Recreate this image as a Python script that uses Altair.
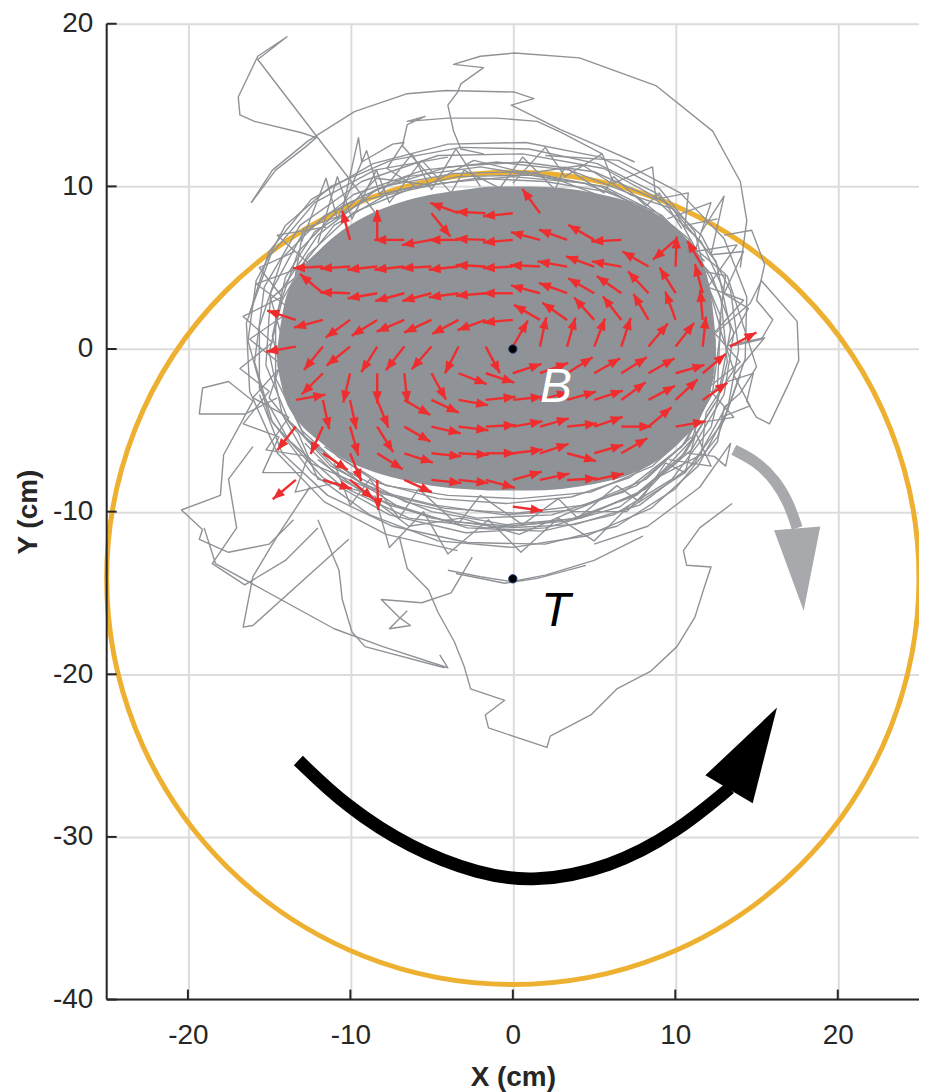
import math
import altair as alt
import pandas as pd

# ---------------- axes ----------------
X_TICKS = [-20, -10, 0, 10, 20]
Y_TICKS = [-40, -30, -20, -10, 0, 10, 20]

# ---------------- annotation geometry (cm) ----------------
CIRCLE_CENTER = [0.0, -14.1]
CIRCLE_RADIUS = 25.0
DOT_X = [0.0, 0.0]
DOT_Y = [0.0, -14.13]
LABEL_TEXT = ["B", "T"]
LABEL_X = [2.65, 2.65]
LABEL_Y = [-2.4, -16.2]

BLACK_ARROW_X = [-13.2, -10.3, -6.3, -2.1, 1.3, 6.0, 10.1, 13.35]
BLACK_ARROW_Y = [-25.3, -28.1, -30.7, -32.3, -32.8, -31.9, -29.7, -27.0]
BLACK_ARROW_TIP = [16.26, -22.05]

GRAY_ARROW_X = [13.6, 15.0, 16.2, 17.0, 17.5]
GRAY_ARROW_Y = [-6.2, -6.9, -8.1, -9.5, -11.0]
GRAY_ARROW_TIP = [17.9, -16.1]

# ---------------- dense trajectory core (cm) ----------------
CORE_X = [-14.5, -14.1, -13.3, -12.0, -10.5, -9.0, -7.0, -5.0, -3.0, -1.0, 1.0, 3.0, 5.0, 7.0, 9.0, 10.5, 11.6,
          12.2, 12.5]
CORE_TOP = [0.0, 2.6, 4.5, 6.0, 7.3, 8.2, 9.0, 9.5, 9.8, 10.0, 10.0, 9.9, 9.6, 9.1, 8.2, 7.0, 5.4, 3.3, 0.5]
CORE_BOT = [-1.0, -2.8, -4.3, -5.6, -6.7, -7.4, -8.0, -8.4, -8.6, -8.7, -8.7, -8.6, -8.3, -7.8, -6.8, -5.5, -4.1,
            -2.4, -0.6]

# ---------------- trajectory fringe & excursions (x, y in cm) ----------------
LOOP_1 = [(-16.3, 0.5), (-15.8, 4.2), (-14.0, 7.6), (-11.2, 10.0), (-7.5, 11.6), (-3.2, 12.4), (1.0, 12.3),
          (5.2, 11.4), (8.8, 9.6), (11.6, 7.0), (13.4, 3.6), (13.9, 0.0), (13.2, -3.8), (11.4, -7.2),
          (8.5, -9.8), (4.5, -11.5), (0.0, -12.2), (-4.6, -11.8), (-8.8, -10.2), (-12.4, -7.6),
          (-15.0, -4.2), (-16.3, 0.5)]
LOOP_2 = [(-15.2, -1.0), (-14.9, 3.5), (-13.0, 7.0), (-9.8, 9.5), (-5.5, 11.0), (-1.0, 11.5), (3.5, 11.0),
          (7.6, 9.4), (10.8, 6.8), (12.8, 3.2), (13.2, -0.8), (12.2, -4.8), (9.8, -8.0), (6.2, -10.2),
          (1.8, -11.2), (-2.8, -11.0), (-7.2, -9.6), (-11.0, -7.2), (-13.8, -4.4), (-15.2, -1.0)]
LOOP_3 = [(-14.6, 2.0), (-13.2, 6.0), (-10.5, 8.8), (-6.5, 10.6), (-2.0, 11.2), (2.8, 10.4), (7.0, 8.8),
          (10.2, 6.0), (12.0, 2.4), (12.4, -1.6), (11.0, -5.6), (8.2, -8.6), (4.2, -10.4), (-0.4, -10.8),
          (-5.0, -10.0), (-9.4, -8.2), (-12.8, -5.4), (-14.6, -1.8), (-14.6, 2.0)]
LOOP_4 = [(-15.6, 1.4), (-14.2, 5.6), (-11.6, 8.2), (-8.0, 10.0), (-3.6, 10.8), (0.8, 10.9), (5.4, 10.0),
          (9.4, 7.8), (12.2, 4.6), (13.6, 1.0), (13.0, -2.8), (11.0, -6.2), (7.6, -9.0), (3.2, -10.6),
          (-1.6, -11.0), (-6.4, -10.4), (-10.6, -8.4), (-13.8, -5.6), (-15.6, -2.4), (-15.6, 1.4)]
LOOP_5 = [(-13.9, -2.8), (-14.8, 0.8), (-14.0, 4.4), (-12.2, 7.2), (-9.0, 9.2), (-4.4, 10.2), (0.0, 10.6),
          (4.4, 10.2), (8.4, 8.6), (11.2, 5.8), (12.8, 2.0), (12.6, -2.2), (10.4, -6.0), (6.8, -8.8),
          (2.4, -10.2), (-2.2, -10.4), (-6.6, -9.4), (-10.4, -7.4), (-13.0, -5.0), (-13.9, -2.8)]
LOOP_7 = [(-14.8, -4.5), (-15.9, -0.8), (-15.3, 3.8), (-13.1, 7.6), (-9.3, 10.3), (-4.6, 11.9), (0.6, 12.0),
          (5.6, 11.1), (9.6, 8.9), (12.5, 5.4), (13.4, 1.2), (12.6, -3.1), (10.2, -6.9), (6.6, -9.7),
          (2.0, -11.0), (-2.9, -11.3), (-7.6, -10.2), (-11.7, -7.9), (-14.8, -4.5)]
LOOP_9 = [(-14.0, 0.0), (-14.9, 3.1), (-13.4, 4.4), (-12.9, 7.4), (-10.6, 8.2), (-8.4, 10.5), (-5.2, 10.1),
          (-2.4, 11.6), (0.9, 10.8), (4.3, 11.3), (7.2, 9.5), (9.9, 8.6), (11.3, 6.1), (13.1, 4.6), (12.7, 1.4),
          (13.6, -1.3), (11.9, -3.9), (11.6, -6.5), (9.1, -7.8), (7.0, -10.0), (3.6, -10.0), (0.4, -11.4),
          (-3.2, -10.4), (-6.4, -10.9), (-9.2, -8.8), (-12.0, -8.0), (-13.2, -5.2), (-15.0, -3.0), (-14.0, 0.0)]
LOOP_10 = [(-12.5, -7.0), (-14.2, -4.0), (-15.0, -0.2), (-14.2, 3.0), (-12.6, 5.8), (-9.8, 8.4), (-6.2, 9.9),
           (-2.2, 10.5), (2.0, 10.3), (6.2, 9.6), (9.6, 7.6), (11.8, 4.7), (12.8, 1.2), (12.3, -2.6),
           (10.6, -5.8), (7.6, -8.4), (3.8, -9.9), (-0.5, -10.2), (-4.8, -9.6), (-8.8, -8.6), (-12.5, -7.0)]
LOOP_11 = [(-16.2, 2.2), (-15.0, 6.0), (-12.4, 9.2), (-8.6, 11.4), (-4.0, 12.6), (0.8, 12.7), (5.4, 11.8),
           (9.0, 9.9), (11.2, 7.2), (12.0, 4.0), (11.4, 0.6)]
LOOP_12 = [(-15.6, -2.8), (-14.2, -6.4), (-11.4, -9.0), (-7.4, -10.9), (-2.8, -11.9), (2.0, -12.0), (6.4, -10.9),
           (10.0, -8.6), (12.6, -5.4), (14.0, -1.6)]
LOOP_13 = [(2.0, 11.9), (6.5, 11.6), (10.3, 9.6), (13.0, 6.8), (14.4, 3.2), (14.3, -0.6), (13.0, -4.4),
           (10.6, -7.6), (7.0, -9.9)]
LOOP_14 = [(-4.0, 11.8), (-8.5, 11.0), (-12.2, 9.0), (-14.9, 5.8), (-16.4, 1.6), (-16.2, -2.6), (-14.5, -6.4),
           (-11.6, -9.4), (-7.8, -11.4), (-3.4, -12.4)]
ARC_B1 = [(-12.8, -5.8), (-10.6, -8.0), (-7.6, -9.6), (-4.0, -10.6), (0.0, -10.9), (4.0, -10.4), (7.6, -8.9),
          (10.6, -6.4), (12.4, -3.4)]
ARC_B2 = [(-13.6, -4.6), (-11.2, -7.2), (-8.0, -8.9), (-4.2, -9.8), (0.2, -10.1), (4.4, -9.6), (8.2, -8.0),
          (11.0, -5.4)]
ARC_B3 = [(-12.0, -6.8), (-9.0, -9.0), (-5.0, -10.4), (-0.6, -11.0), (3.8, -10.8), (7.8, -9.6), (11.2, -7.0),
          (13.2, -3.4)]
ARC_B4 = [(-11.6, -6.0), (-8.4, -8.2), (-4.6, -9.2), (-0.4, -9.5), (3.6, -9.1), (7.2, -7.9), (10.2, -5.6)]
ARC_B5 = [(-13.0, -4.0), (-10.8, -6.6), (-7.8, -8.4), (-4.0, -9.0), (0.4, -9.2), (4.8, -8.8), (8.6, -7.2),
          (11.4, -4.6)]
ARC_T1 = [(-13.4, 4.6), (-11.0, 7.6), (-7.6, 9.6), (-3.4, 10.6), (1.2, 10.7), (5.6, 10.0), (9.2, 8.2), (11.8, 5.4)]
ARC_T2 = [(-14.4, 3.4), (-12.0, 7.0), (-8.4, 9.8), (-4.0, 11.2), (0.6, 11.5), (5.0, 10.9), (8.8, 9.2), (11.6, 6.6),
          (13.0, 3.6)]
ZIG_TOP = [(-12.0, 6.5), (-10.8, 10.6), (-9.9, 8.0), (-8.4, 11.0), (-7.6, 9.0), (-5.6, 11.6), (-3.8, 9.6),
           (-3.0, 11.0), (-0.8, 9.9), (0.6, 11.8), (2.6, 9.8), (3.2, 11.2), (5.6, 9.6), (6.2, 10.6), (8.2, 8.8),
           (9.0, 9.6), (10.4, 7.4)]
ZIG_LEFT = [(-11.5, 7.5), (-14.5, 7.0), (-12.5, 5.2), (-15.8, 4.0), (-13.6, 2.4), (-16.2, 0.6), (-14.2, -1.0),
            (-16.0, -3.0), (-13.8, -4.2), (-15.2, -6.2), (-12.6, -6.6), (-13.4, -8.8), (-10.8, -8.2)]
ZIG_BOTTOM = [(-11.0, -7.0), (-10.0, -9.6), (-8.8, -8.0), (-7.0, -10.4), (-5.8, -8.6), (-3.4, -10.8),
              (-2.0, -9.0), (0.6, -10.8), (2.8, -9.2), (4.0, -10.4), (6.4, -8.4), (7.8, -9.4), (9.4, -7.0),
              (10.6, -7.6), (11.2, -5.4)]
ZIG_RIGHT = [(9.5, 8.0), (12.2, 9.0), (11.2, 6.0), (13.8, 6.4), (12.0, 3.8), (14.2, 3.0), (12.4, 1.0),
             (14.0, -0.8), (12.0, -2.4), (13.6, -4.2), (11.0, -4.6), (12.2, -7.2), (9.6, -6.8)]
SPIKES_TOP_LEFT = [(-10.5, 8.5), (-9.5, 13.0), (-9.3, 11.5), (-7.4, 12.6), (-6.7, 12.7), (-7.75, 11.1),
                   (-6.0, 10.0), (-8.2, 9.5)]
SPIKES_TOP = [(-13.0, 6.6), (-11.5, 10.5), (-10.8, 8.0), (-9.0, 12.2), (-8.2, 9.5), (-6.2, 12.0),
              (-5.0, 9.8), (-3.5, 12.3), (-2.0, 10.0)]
SPIKES_TOP_RIGHT = [(0.0, 10.2), (2.0, 12.4), (3.2, 10.6), (5.5, 12.0), (6.2, 10.2), (8.6, 11.2), (8.8, 9.2),
                    (10.8, 9.6), (10.6, 7.6), (12.6, 8.0)]
SPIKES_RIGHT = [(11.6, 7.2), (13.0, 9.4), (12.2, 5.8), (14.2, 6.0), (13.0, 3.4), (14.5, 2.5), (13.2, 0.2),
                (15.5, 0.7), (13.6, -1.6), (14.6, -3.5), (12.8, -4.2)]
SPIKES_LEFT = [(-13.4, 6.0), (-15.6, 5.0), (-14.2, 3.2), (-16.6, 2.0), (-14.8, 0.4), (-16.8, -1.2),
               (-15.0, -2.6), (-16.6, -4.6), (-14.4, -5.4), (-15.4, -7.6), (-13.0, -7.6)]
SPIKES_BOTTOM = [(-8.5, -9.0), (-7.6, -12.2), (-5.5, -10.0), (-4.0, -12.6), (-1.5, -10.5), (0.5, -12.5),
                 (2.8, -10.4), (5.0, -11.8), (7.2, -9.6)]
EXCURSION_TOP_1 = [(-16.1, 9.0), (-14.6, 11.0), (-12.8, 12.4), (-12.1, 13.0), (-13.0, 13.3), (-15.9, 14.0),
                   (-16.8, 14.4), (-16.9, 15.5), (-15.7, 18.0), (-13.9, 19.2), (-15.7, 17.8), (-8.1, 7.9)]
EXCURSION_TOP_2 = [(-1.8, 12.0), (-3.2, 12.3), (-3.65, 13.4), (-4.0, 15.0), (-3.4, 15.8), (-3.2, 16.3),
                   (-1.8, 17.3), (-3.65, 17.5), (-2.0, 18.0), (0.1, 18.2), (4.1, 17.9), (8.8, 16.2),
                   (12.3, 13.4), (14.0, 10.3), (14.4, 7.9), (14.0, 5.0)]
EXCURSION_TOP_3 = [(-16.1, 9.0), (-14.8, 11.0), (-12.6, 12.8), (-9.75, 14.6), (-6.5, 15.7), (-4.1, 15.9),
                   (0.1, 15.8), (1.3, 15.4), (-0.1, 15.0), (2.9, 13.5), (5.0, 12.6), (7.5, 11.5)]
EXCURSION_TOP_4 = [(-5.0, 10.5), (-6.8, 12.5), (-6.5, 13.8), (-5.4, 14.3), (-6.5, 14.0), (-4.0, 14.2),
                   (-1.0, 14.2), (1.5, 14.0), (3.0, 13.3), (5.5, 12.0)]
EXCURSION_LEFT_1 = [(-14.5, -3.0), (-16.5, -4.0), (-19.3, -4.0), (-19.1, -2.4), (-17.5, -2.0), (-16.0, -3.2),
                    (-17.8, -6.5), (-18.0, -9.0), (-20.4, -9.9), (-19.1, -11.1), (-19.3, -11.7),
                    (-17.5, -12.5), (-15.0, -12.0), (-13.5, -10.5)]
EXCURSION_LEFT_2 = [(-12.5, -8.5), (-14.5, -11.5), (-16.0, -14.0), (-16.6, -17.1), (-16.0, -17.0), (-10.1, -11.7)]
EXCURSION_LEFT_3 = [(-16.0, -6.0), (-17.5, -8.0), (-17.0, -11.0), (-18.5, -13.2), (-16.5, -14.5),
                    (-14.0, -13.0), (-12.0, -11.0)]
EXCURSION_LEFT_4 = [(-19.0, -11.0), (-18.3, -13.2), (-11.0, -17.2), (-8.0, -18.3), (-4.0, -19.6), (-4.5, -18.8)]
EXCURSION_BOTTOM_1 = [(-7.0, -11.5), (-6.5, -13.5), (-5.2, -14.8), (-4.6, -16.2), (-3.6, -18.0), (-3.0, -19.5),
                      (-2.6, -20.9), (-0.5, -21.6), (-1.7, -22.5), (-1.5, -23.3), (2.1, -24.5), (2.3, -23.8),
                      (4.8, -22.5), (6.4, -20.9), (8.5, -19.8), (10.1, -18.3), (11.2, -16.5), (11.8, -14.6),
                      (12.2, -13.4), (10.7, -13.3), (10.5, -12.4), (11.5, -11.0), (13.5, -9.5)]
EXCURSION_BOTTOM_2 = [(-4.0, -13.6), (-2.0, -14.0), (-0.1, -14.3), (2.0, -13.9), (5.0, -13.0), (8.0, -11.5)]
EXCURSION_BOTTOM_3 = [(-3.5, -13.8), (-0.5, -14.4), (1.5, -14.1), (4.5, -13.3)]
EXCURSION_BOTTOM_4 = [(-12.0, -10.5), (-10.7, -13.6), (-10.5, -15.4), (-9.9, -17.4), (-9.1, -18.3), (-4.2, -19.6)]
EXCURSION_BOTTOM_5 = [(-2.5, -12.8), (-3.8, -15.0), (-5.6, -15.6), (-8.1, -15.4), (-7.0, -16.5), (-6.3, -17.0),
                      (-7.6, -17.2), (-6.5, -16.1)]
EXCURSION_RIGHT_1 = [(12.5, 1.0), (14.6, 2.8), (15.3, 4.2), (17.5, 1.7), (17.6, -0.7), (16.9, -2.3), (15.8, -4.6),
                     (15.0, -4.2), (14.4, -3.2), (14.8, -1.5), (13.2, -2.0)]
EXCURSION_RIGHT_2 = [(10.5, 5.0), (13.2, 4.5), (15.0, -1.1), (14.0, -2.7), (13.0, -3.6), (12.6, -5.7), (12.0, -6.5)]
EXCURSION_RIGHT_3 = [(10.7, -6.4), (12.4, -6.6), (13.1, -7.2), (13.4, -5.8), (11.5, -8.5), (8.3, -10.9), (5.0, -12.0)]
EXCURSION_RIGHT_4 = [(13.0, 7.0), (14.7, 7.3), (15.5, 5.2), (15.0, 3.0), (16.0, 1.8), (15.3, 0.6), (13.6, 0.2)]

TRACES = [LOOP_1, LOOP_2, LOOP_3, LOOP_4, LOOP_5, LOOP_7, LOOP_9, LOOP_10, LOOP_11, LOOP_12,
          LOOP_13, LOOP_14, ARC_B1, ARC_B2, ARC_B3, ARC_B4, ARC_B5, ARC_T1, ARC_T2,
          ZIG_TOP, ZIG_LEFT, ZIG_BOTTOM, ZIG_RIGHT,
          SPIKES_TOP_LEFT, SPIKES_TOP, SPIKES_TOP_RIGHT, SPIKES_RIGHT, SPIKES_LEFT, SPIKES_BOTTOM,
          EXCURSION_TOP_1, EXCURSION_TOP_2, EXCURSION_TOP_3, EXCURSION_TOP_4,
          EXCURSION_LEFT_1, EXCURSION_LEFT_2, EXCURSION_LEFT_3, EXCURSION_LEFT_4,
          EXCURSION_BOTTOM_1, EXCURSION_BOTTOM_2, EXCURSION_BOTTOM_3, EXCURSION_BOTTOM_4,
          EXCURSION_BOTTOM_5, EXCURSION_RIGHT_1, EXCURSION_RIGHT_2, EXCURSION_RIGHT_3, EXCURSION_RIGHT_4]

# ---------------- red velocity field: arrow direction (deg) on a grid ----------------
# columns j = -10 .. 8  (x = j * 1.67 cm); rows from y = 8.35 cm downwards in 1.64 cm steps
N = None
FIELD_COL_FIRST = -10
FIELD_DX = 1.67
FIELD_Y_TOP = 8.35
FIELD_DY = 1.64
ARROW_LEN = 1.85
ROW_00 = [N, N, N, N, N, N, N, 309, 160, 177, 186, 126, N, N, N, N, N, N, N]
ROW_01 = [N, N, N, N, 105, 90, 180, 190, 180, 178, 185, 165, 160, 150, 183, N, 221, N, N]
ROW_02 = [N, N, N, 183, 184, 186, 186, 183, 186, 177, 183, 177, 170, 160, 170, 150, 88, 121, N]
ROW_03 = [N, N, N, 140, 178, 190, 195, 195, 188, 185, 180, 165, 160, 150, 145, 133, 122, 105, N]
ROW_04 = [N, N, 162, 195, 216, 212, 203, 205, 208, 200, 185, 150, 145, 132, 128, 120, 110, 95, N]
ROW_05 = [N, N, 190, 231, 219, 238, 232, 229, 243, 298, 60, 78, 74, 69, 72, 50, 52, 84, 28]
ROW_06 = [N, N, N, 225, 257, 270, 276, 299, 339, 342, 18, 20, 32, 30, 32, 30, 16, 40, N]
ROW_07 = [N, N, 10, 282, 282, 292, 330, 335, 350, 6, 6, 15, 16, 18, 36, 28, 43, 35, N]
ROW_08 = [N, N, 232, 246, 286, 302, 330, 347, 353, 3, 10, 16, 6, 19, 0, 40, 10, N, N]
ROW_09 = [N, N, N, 326, 292, 328, 342, 354, 357, 0, 7, 18, 345, 16, 30, N, N, N, N]
ROW_10 = [N, N, 220, 343, 321, 272, 336, 354, 354, 345, 16, 12, 3, 12, N, N, N, N, N]
ROW_11 = [N, N, N, N, N, N, N, N, N, N, 352, N, N, N, N, N, N, N, N]
FIELD_ROWS = [ROW_00, ROW_01, ROW_02, ROW_03, ROW_04, ROW_05, ROW_06, ROW_07, ROW_08, ROW_09, ROW_10, ROW_11]

# ---------------- styles ----------------
W, H = 815, 979
FONT = "Liberation Sans"
AXIS_COLOR = "#262626"
GRID_COLOR = "#DCDCDC"
TRACE_COLOR = "#8F9297"
RED = "#EE2E2E"
ORANGE = "#EDB030"
ARROW_GRAY = "#A7A9AC"
PX_PER_CM = W / 50.0


def head_angle(tip, base):
    th = math.degrees(math.atan2(tip[1] - base[1], tip[0] - base[0]))
    return (90.0 - th) % 360.0


xs = alt.Scale(domain=[-25, 25], nice=False, zero=False)
ys = alt.Scale(domain=[-40, 20], nice=False, zero=False)

x_axis = alt.Axis(values=X_TICKS, title="X (cm)", domain=False, ticks=False, grid=True,
                  gridColor=GRID_COLOR, gridWidth=2, labelFontSize=28, labelColor=AXIS_COLOR,
                  labelFont=FONT, labelPadding=22, labelFlush=False, labelOverlap=False,
                  labelExpr="'' + datum.value",
                  titleFont=FONT, titleFontSize=28, titleFontWeight="bold", titleColor=AXIS_COLOR,
                  titlePadding=14)
y_axis = alt.Axis(values=Y_TICKS, title="Y (cm)", domain=False, ticks=False, grid=True,
                  gridColor=GRID_COLOR, gridWidth=2, labelFontSize=28, labelColor=AXIS_COLOR,
                  labelFont=FONT, labelPadding=14, labelFlush=False, labelOverlap=False,
                  labelExpr="'' + datum.value",
                  titleFont=FONT, titleFontSize=28, titleFontWeight="bold", titleColor=AXIS_COLOR,
                  titlePadding=10)


def X(field="x"):
    return alt.X(f"{field}:Q", scale=xs, axis=x_axis, title="X (cm)")


def Y(field="y"):
    return alt.Y(f"{field}:Q", scale=ys, axis=y_axis, title="Y (cm)")


# circle
circle_df = pd.DataFrame({"x": [CIRCLE_CENTER[0]], "y": [CIRCLE_CENTER[1]]})
circle = alt.Chart(circle_df).mark_point(
    shape="circle", filled=False, stroke=ORANGE, strokeWidth=5, opacity=1,
    size=(2 * CIRCLE_RADIUS * PX_PER_CM) ** 2,
).encode(x=X("x"), y=Y("y"))

# dense core
core_df = pd.DataFrame({"x": CORE_X, "top": CORE_TOP, "bot": CORE_BOT})
core = alt.Chart(core_df).mark_area(color=TRACE_COLOR, opacity=1, interpolate="monotone").encode(
    x=X("x"), y=Y("top"), y2="bot:Q")

# trajectory lines
rows = []
for pid, tr in enumerate(TRACES):
    for o, (px, py) in enumerate(tr):
        rows.append({"x": px, "y": py, "path": pid, "o": o})
traj_df = pd.DataFrame(rows)
traj = alt.Chart(traj_df).mark_line(color=TRACE_COLOR, strokeWidth=1.4, strokeJoin="round").encode(
    x=X("x"), y=Y("y"), detail="path:N", order="o:Q")

# red arrows
arr = []
for k, row in enumerate(FIELD_ROWS):
    for i, a in enumerate(row):
        if a is None:
            continue
        x0 = (FIELD_COL_FIRST + i) * FIELD_DX
        y0 = FIELD_Y_TOP - k * FIELD_DY
        t = math.radians(a)
        x1 = x0 + ARROW_LEN * math.cos(t)
        y1 = y0 + ARROW_LEN * math.sin(t)
        arr.append({"x": x0, "y": y0, "x2": x1, "y2": y1, "rot": (90 - a) % 360})
arr_df = pd.DataFrame(arr)
shafts = alt.Chart(arr_df).mark_rule(color=RED, strokeWidth=2.4).encode(
    x=X("x"), y=Y("y"), x2="x2:Q", y2="y2:Q")
heads = alt.Chart(arr_df).mark_point(
    shape="M0,0 L0.4,1 L-0.4,1 Z", filled=True, color=RED, opacity=1, strokeWidth=0, size=576
).encode(x=X("x2"), y=Y("y2"), angle=alt.Angle("rot:Q", scale=None))

# B / T dots and labels
dots_df = pd.DataFrame({"x": DOT_X, "y": DOT_Y})
dots = alt.Chart(dots_df).mark_point(shape="circle", filled=True, color="black", opacity=1, size=70,
                                     stroke="#1F3F7A", strokeWidth=1).encode(x=X("x"), y=Y("y"))
lab_df = pd.DataFrame({"x": LABEL_X, "y": LABEL_Y, "t": LABEL_TEXT, "c": ["white", "black"]})
labels = alt.Chart(lab_df).mark_text(font=FONT, fontSize=48, fontStyle="italic", align="center",
                                     baseline="middle").encode(
    x=X("x"), y=Y("y"), text="t:N", color=alt.Color("c:N", scale=None))

# gray curved arrow
g_df = pd.DataFrame({"x": GRAY_ARROW_X, "y": GRAY_ARROW_Y, "o": list(range(len(GRAY_ARROW_X)))})
g_line = alt.Chart(g_df).mark_line(color=ARROW_GRAY, strokeWidth=11, interpolate="basis",
                                   strokeCap="butt").encode(x=X("x"), y=Y("y"), order="o:Q")
g_head_df = pd.DataFrame({"x": [GRAY_ARROW_TIP[0]], "y": [GRAY_ARROW_TIP[1]],
                          "rot": [head_angle(GRAY_ARROW_TIP, (GRAY_ARROW_X[-1], GRAY_ARROW_Y[-1]))]})
g_head = alt.Chart(g_head_df).mark_point(
    shape="M0,0 L0.28,1 L-0.28,1 Z", filled=True, color=ARROW_GRAY, opacity=1, strokeWidth=0,
    size=(2 * 83) ** 2).encode(x=X("x"), y=Y("y"), angle=alt.Angle("rot:Q", scale=None))

# black curved arrow
b_df = pd.DataFrame({"x": BLACK_ARROW_X, "y": BLACK_ARROW_Y, "o": list(range(len(BLACK_ARROW_X)))})
b_line = alt.Chart(b_df).mark_line(color="black", strokeWidth=13, interpolate="basis",
                                   strokeCap="butt").encode(x=X("x"), y=Y("y"), order="o:Q")
b_head_df = pd.DataFrame({"x": [BLACK_ARROW_TIP[0]], "y": [BLACK_ARROW_TIP[1]],
                          "rot": [head_angle(BLACK_ARROW_TIP, (BLACK_ARROW_X[-1], BLACK_ARROW_Y[-1]))]})
b_head = alt.Chart(b_head_df).mark_point(
    shape="M0,0 L0.29,1 L-0.29,1 Z", filled=True, color="black", opacity=1, strokeWidth=0,
    size=(2 * 95) ** 2).encode(x=X("x"), y=Y("y"), angle=alt.Angle("rot:Q", scale=None))

# axis lines and inward ticks
frame_df = pd.DataFrame({"k": [0]})
left_line = alt.Chart(frame_df).mark_rule(color=AXIS_COLOR, strokeWidth=2).encode(
    x=alt.value(0), y=alt.value(0), y2=alt.value(H))
bottom_line = alt.Chart(frame_df).mark_rule(color=AXIS_COLOR, strokeWidth=2).encode(
    x=alt.value(0), x2=alt.value(W), y=alt.value(H))
xt = alt.Chart(pd.DataFrame({"x": X_TICKS})).mark_rule(color=AXIS_COLOR, strokeWidth=2).encode(
    x=X("x"), y=alt.value(H), y2=alt.value(H - 10))
yt = alt.Chart(pd.DataFrame({"y": Y_TICKS})).mark_rule(color=AXIS_COLOR, strokeWidth=2).encode(
    y=Y("y"), x=alt.value(0), x2=alt.value(10))

chart = alt.layer(
    circle, core, traj, shafts, heads, dots, labels, g_line, g_head, b_line, b_head,
    left_line, bottom_line, xt, yt
).properties(
    width=W, height=H,
    autosize=alt.AutoSizeParams(type="none"),
    padding={"left": 99, "top": 14, "right": 0, "bottom": 104},
).configure_view(strokeWidth=0).configure(font=FONT, background="white")

chart.save("out.html", embed_options={"renderer": "svg", "actions": False})
